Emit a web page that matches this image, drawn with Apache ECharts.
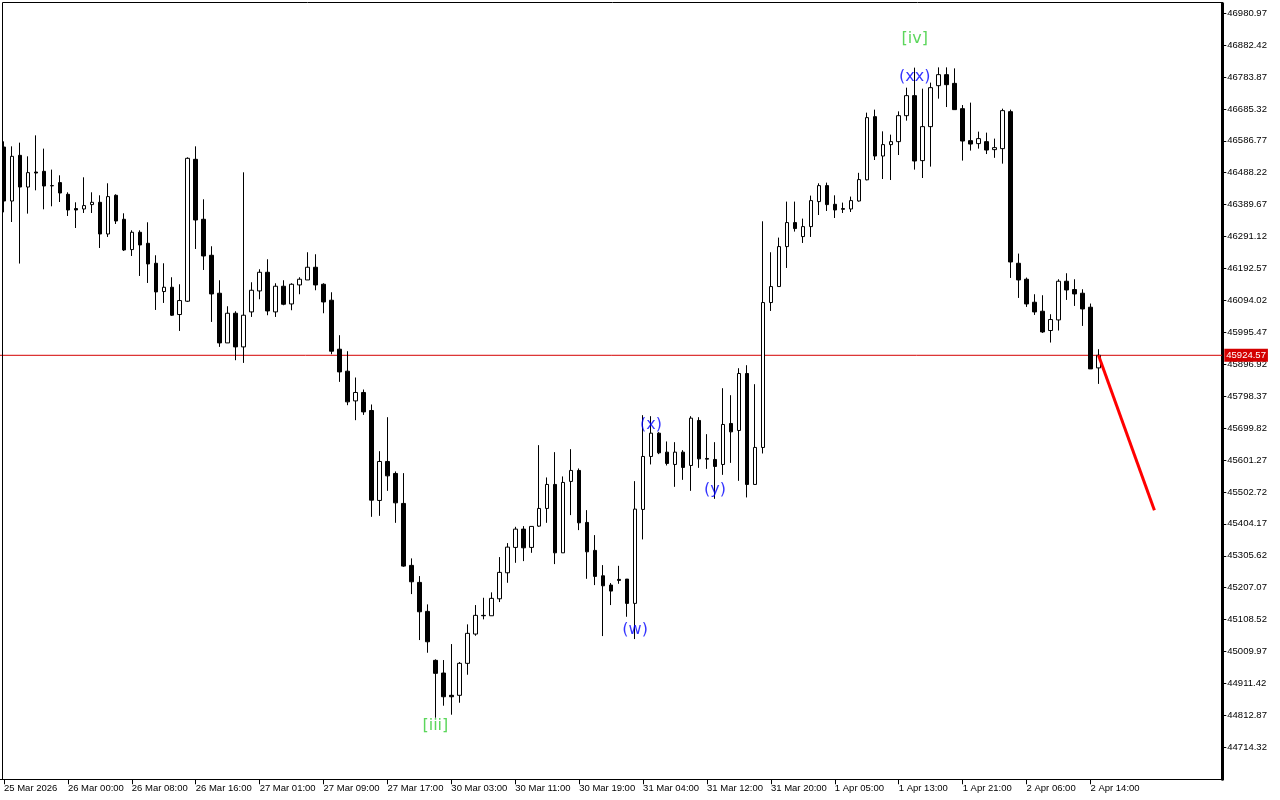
<!DOCTYPE html>
<html>
<head>
<meta charset="utf-8">
<script src="https://cdn.jsdelivr.net/npm/echarts@6.0.0/dist/echarts.min.js"></script>
<style>
html,body{margin:0;padding:0;background:#fff;}
#chart{width:1280px;height:800px;}
</style>
</head>
<body>
<div id="chart"></div>
<script>
// ---------- data ----------
const tickLabels = ['25 Mar 2026','26 Mar 00:00','26 Mar 08:00','26 Mar 16:00','27 Mar 01:00','27 Mar 09:00','27 Mar 17:00','30 Mar 03:00','30 Mar 11:00','30 Mar 19:00','31 Mar 04:00','31 Mar 12:00','31 Mar 20:00','1 Apr 05:00','1 Apr 13:00','1 Apr 21:00','2 Apr 06:00','2 Apr 14:00'];
const barsPerTick = 8;
const emptyBarsRight = 15;

const yTicks = [44714.32,44812.87,44911.42,45009.97,45108.52,45207.07,45305.62,45404.17,45502.72,45601.27,45699.82,45798.37,45896.92,45995.47,46094.02,46192.57,46291.12,46389.67,46488.22,46586.77,46685.32,46783.87,46882.42,46980.97];

const open = [
46567.5,46400.9,46541.9,46444.1,46490.4,46492.5,46448.4,46457.7,46421.6,46377.5,
46376.3,46389.8,46396.9,46299.1,46418.5,46344.5,46251.0,46304.4,46270.4,46208.7,
46121.4,46134.7,46050.4,46091.5,46529.6,46344.5,46233.4,46116.2,45962.8,46054.4,
45950.5,46058.5,46123.3,46180.9,46058.5,46137.8,46083.1,46141.8,46157.2,46196.4,
46143.9,46094.6,45943.4,45875.5,45783.8,45809.8,45754.2,45476.5,45596.8,45559.8,
45467.3,45276.0,45223.5,45134.0,44982.8,44943.7,44874.9,44874.9,44973.6,45064.0,
45121.7,45120.5,45172.9,45253.2,45331.5,45388.0,45331.5,45397.2,45451.8,45525.9,
45314.8,45535.2,45569.1,45408.6,45322.3,45243.9,45215.2,45232.8,45233.7,45158.7,
45448.8,45612.3,45684.2,45625.6,45587.6,45625.6,45584.5,45723.4,45606.1,45603.0,
45587.6,45714.1,45692.5,45868.4,45525.9,45640.1,46087.4,46136.8,46260.2,46334.3,
46291.1,46321.9,46399.1,46448.4,46390.7,46377.5,46376.3,46400.9,46466.3,46661.4,
46539.8,46575.0,46584.2,46664.4,46726.2,46525.6,46630.5,46757.0,46791.0,46764.1,
46686.0,46587.3,46578.1,46584.2,46559.5,46562.6,46676.8,46208.7,46159.4,46088.4,
46060.6,46001.1,46033.8,46153.2,46127.6,46116.2,46073.0,45885.7
];
const close = [
46400.9,46538.8,46444.1,46488.5,46487.3,46447.2,46447.8,46425.6,46373.2,46373.2,
46386.8,46396.9,46299.1,46414.5,46339.2,46249.8,46304.4,46265.2,46206.6,46120.2,
46134.7,46048.3,46093.6,46532.7,46342.3,46231.2,46114.0,45962.8,46054.4,45950.5,
46048.3,46125.4,46180.9,46061.5,46137.8,46082.2,46143.9,46159.4,46196.4,46141.8,
46089.3,45937.2,45873.3,45780.8,45809.8,45749.9,45477.4,45596.8,45552.4,45469.1,
45273.8,45225.4,45132.8,45040.2,44942.7,44870.5,44870.5,44973.6,45066.2,45121.7,
45120.5,45174.2,45254.4,45332.4,45388.0,45330.3,45396.3,45451.8,45525.9,45314.8,
45532.1,45569.1,45407.4,45317.9,45242.0,45213.0,45196.7,45229.7,45158.7,45449.7,
45612.3,45684.2,45623.4,45590.7,45625.6,45578.4,45730.5,45604.9,45604.0,45581.4,
45711.0,45688.2,45868.4,45525.9,45640.1,46087.4,46136.8,46260.2,46334.3,46315.8,
46321.9,46402.2,46448.4,46389.8,46373.2,46375.3,46402.2,46467.0,46658.3,46539.8,
46575.0,46584.2,46664.4,46726.2,46524.4,46630.5,46750.8,46791.0,46760.1,46683.0,
46586.1,46576.8,46593.5,46558.3,46565.7,46679.9,46212.7,46157.2,46083.1,46058.5,
45996.7,46035.0,46153.2,46126.3,46114.0,46067.7,45882.6,45924.57
];
const low = [
46366.0,46336.1,46207.8,46362.0,46433.9,46375.3,46384.6,46397.8,46354.7,46317.6,
46363.9,46363.9,46255.9,46289.9,46330.0,46246.7,46231.2,46169.5,46147.9,46064.6,
46086.2,46046.1,45999.8,46089.3,46252.8,46188.0,46027.6,45950.5,45962.8,45909.4,
45901.1,46043.0,46097.6,46048.3,46043.0,46079.1,46063.7,46113.1,46157.2,46125.4,
46054.4,45927.9,45842.5,45770.6,45724.3,45740.6,45425.9,45429.0,45506.1,45407.4,
45271.6,45187.4,45045.5,45006.3,44805.7,44842.8,44815.0,44852.0,44938.4,45058.8,
45109.4,45120.5,45162.8,45222.3,45284.0,45289.2,45314.8,45395.1,45407.4,45280.0,
45314.8,45431.2,45384.9,45234.6,45215.2,45057.8,45153.5,45219.2,45117.4,45048.6,
45356.2,45587.6,45619.4,45584.5,45518.5,45540.1,45506.1,45577.1,45574.0,45481.5,
45555.5,45592.5,45537.0,45485.8,45525.9,45621.5,46061.5,46136.8,46194.2,46306.5,
46271.4,46289.9,46357.7,46370.1,46348.5,46363.9,46367.0,46399.1,46464.8,46527.5,
46468.8,46465.7,46542.9,46649.0,46497.8,46471.9,46507.1,46716.9,46691.0,46683.0,
46525.6,46556.5,46562.6,46545.9,46534.2,46516.3,46163.4,46101.7,46073.9,46049.2,
45993.7,45964.0,46001.1,46095.5,46077.0,46015.3,45882.6,45836.3
];
const high = [
46585.1,46569.7,46581.1,46538.8,46603.6,46562.6,46497.8,46480.2,46427.8,46396.9,
46474.1,46427.8,46418.5,46455.6,46421.6,46363.0,46310.5,46310.5,46335.2,46233.4,
46208.7,46165.5,46143.9,46535.8,46569.7,46406.2,46261.2,46156.3,46076.0,46060.6,
46489.5,46150.1,46190.2,46221.1,46147.0,46156.3,46147.0,46165.5,46242.7,46236.5,
46147.0,46119.2,45986.6,45937.2,45856.0,45819.0,45772.7,45628.6,45733.5,45566.0,
45560.8,45297.6,45243.0,45155.6,44985.9,44983.8,45033.1,44977.6,45093.9,45153.5,
45176.0,45192.7,45301.6,45344.8,45395.1,45397.2,45396.3,45647.2,45547.5,45625.6,
45550.6,45634.8,45575.3,45446.6,45369.5,45276.9,45221.4,45274.7,45233.7,45536.1,
45739.7,45736.6,45687.3,45658.6,45656.4,45631.7,45736.6,45733.5,45681.1,45656.4,
45823.0,45801.4,45884.7,45894.0,45835.4,46338.3,46242.7,46288.0,46399.1,46399.1,
46346.6,46417.6,46455.6,46457.7,46418.5,46396.0,46414.5,46487.9,46673.7,46683.0,
46616.0,46605.8,46677.7,46750.8,46812.6,46747.8,46766.3,46813.5,46813.5,46810.4,
46697.2,46704.6,46615.1,46612.0,46593.5,46686.0,46683.0,46238.6,46164.6,46113.1,
46110.0,46051.4,46159.4,46177.9,46159.4,46128.5,46084.4,45943.4
];

const lastPrice = 45924.57;
const forecastBars = [137, 144];
const forecastPrices = [45924.57, 45446];

const waveTexts  = ['[iii]', '(w)', '(x)', '(y)', '(xx)', '[iv]'];
const waveBars   = [54, 79, 81, 89, 114, 114];
const wavePrices = [44780, 45076, 45709, 45508, 46783, 46900];

// ---------- build ----------
const nCats = open.length + emptyBarsRight;
const categories = Array.from({length: nCats}, (_, i) => String(i));
const candleData = open.map((o, i) => [o, close[i], low[i], high[i]]);
const lastTickIndex = (tickLabels.length - 1) * barsPerTick;
const showTick = (idx) => idx % barsPerTick === 0 && idx <= lastTickIndex;

const AXIS_FONT = {fontFamily: 'Liberation Sans, Arial, sans-serif', fontSize: 9.5, color: '#000'};
const PRICE_RED = '#d40000';

const chart = echarts.init(document.getElementById('chart'), null, {renderer: 'canvas'});
chart.setOption({
  animation: false,
  backgroundColor: '#fff',
  grid: {left: -1.7, top: 3.42, width: 1224, height: 775.83, containLabel: false},
  xAxis: [{
    type: 'category',
    data: categories,
    boundaryGap: true,
    axisLine: {show: true, onZero: false, lineStyle: {color: '#000', width: 1}},
    axisTick: {show: true, alignWithLabel: true, length: 5, interval: showTick, lineStyle: {color: '#000'}},
    axisLabel: Object.assign({
      show: true, interval: showTick, align: 'left', margin: 4, padding: [0, 0, 0, 0],
      formatter: (v) => tickLabels[Math.round(Number(v) / barsPerTick)] || ''
    }, AXIS_FONT),
    splitLine: {show: false}
  }, {
    // helper axis spanning the full plot width for the current-price line
    type: 'value', min: 0, max: 1, show: false, position: 'top',
    axisLine: {onZero: false}
  }],
  yAxis: {
    type: 'value',
    position: 'right',
    min: 44615.77,
    max: 47010.9,
    axisLine: {show: true, onZero: false, lineStyle: {color: '#000', width: 3}},
    axisTick: {show: true, length: 4, customValues: yTicks, lineStyle: {color: '#000'}},
    axisLabel: Object.assign({show: true, margin: 5, customValues: yTicks, formatter: v => Number(v).toFixed(2)}, AXIS_FONT),
    splitLine: {show: false}
  },
  graphic: [
    {type: 'rect', z: 100, silent: true, shape: {x: 2.5, y: 2.5, width: 1220, height: 777}, style: {fill: null, stroke: '#000', lineWidth: 1}}
  ],
  series: [
    {
      type: 'line',
      xAxisIndex: 1,
      data: [[0, lastPrice], [1, lastPrice]],
      symbol: 'none',
      silent: true,
      color: PRICE_RED,
      lineStyle: {color: PRICE_RED, width: 1},
      endLabel: {
        show: true, distance: 2,
        formatter: lastPrice.toFixed(2),
        color: '#fff', backgroundColor: PRICE_RED, padding: [2, 2, 1, 2],
        fontFamily: 'Liberation Sans, Arial, sans-serif', fontSize: 9.5
      },
      z: 2
    },
    {
      type: 'candlestick',
      data: candleData,
      barWidth: 4,
      itemStyle: {color: '#ffffff', color0: '#000000', borderColor: '#000000', borderColor0: '#000000', borderWidth: 1},
      z: 3
    },
    {
      type: 'line',
      data: forecastBars.map((b, i) => [b, forecastPrices[i]]),
      symbol: 'none',
      color: '#ff0000',
      lineStyle: {color: '#ff0000', width: 3},
      z: 5
    },
    {
      type: 'scatter',
      symbolSize: 1,
      itemStyle: {color: 'rgba(0,0,0,0)'},
      data: waveTexts.map((t, i) => ({
        name: t,
        value: [waveBars[i], wavePrices[i]],
        label: {color: t.charAt(0) === '[' ? '#33cc33' : '#0000ff'}
      })),
      label: {
        show: true, position: 'inside',
        formatter: p => p.name,
        fontFamily: 'DejaVu Sans, sans-serif', fontSize: 16
      },
      z: 10
    }
  ]
});
</script>
</body>
</html>
